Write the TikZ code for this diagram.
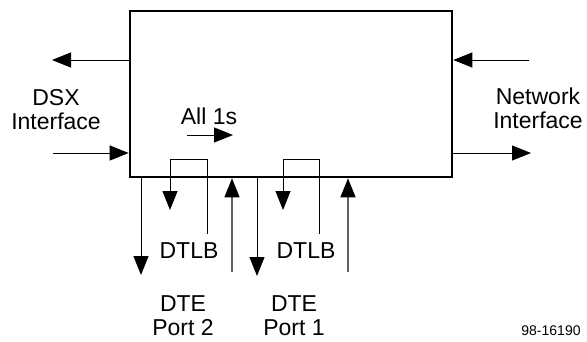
\documentclass[tikz,border=0pt]{standalone}
\usepackage{fontspec}
\setmainfont{Liberation Sans}
\usetikzlibrary{positioning, arrows.meta}

\begin{document}
\begin{tikzpicture}[x=1pt, y=-1pt,
  lbl/.style={font=\fontsize{23}{24}\selectfont, align=center, inner sep=0pt},
  tag/.style={font=\fontsize{14}{16}\selectfont, inner sep=0pt},
  unit/.style={draw, line width=2.6pt, minimum width=322pt, minimum height=166pt, inner sep=0pt},
  arr/.style={-{Triangle[length=19pt, width=15pt]}, line width=1pt},
  back/.style={-{Triangle[length=19pt, width=15pt, color=black]}, line width=1.2pt, draw=black!62}]

\useasboundingbox (0,0) rectangle (587,341);

\node[unit] (box) at (291,94) {};

% DSX side
\coordinate (dsxOut) at (52,60);
\coordinate (dsxIn)  at (53,153);
\draw[arr] (dsxOut -| box.west) -- (dsxOut);
\draw[arr] (dsxIn) -- (dsxIn -| box.west);
\node[lbl] (dsx) at (56,110) {DSX\\Interface};

% network side
\coordinate (netIn)  at (529,60);
\coordinate (netOut) at (531,153);
\draw[arr] (netIn) -- (netIn -| box.east);
\draw[arr] (netOut -| box.east) -- (netOut);
\node[lbl] (net) at (538,108) {Network\\Interface};

% all ones
\node[lbl] (ones) at (209,116) {All 1s};
\coordinate (onesA) at (187,135);
\coordinate (onesB) at (233,135);
\draw[arr] (onesA) -- (onesB);

% DTE port 2
\coordinate (p2tx) at (141,275);
\coordinate (p2rx) at (232,272);
\coordinate (lb2e) at (207,234);
\coordinate (lb2s) at (170,210);
\draw[arr] (p2tx |- box.south) -- (p2tx);
\draw[arr] (lb2e) -- ++(0,-75) -| (lb2s);
\draw[back] (p2rx) -- (p2rx |- box.south);
\node[lbl] (dtlb2) at (189,251) {DTLB};
\node[lbl] (port2) at (183,316) {DTE\\Port 2};

% DTE port 1
\coordinate (p1tx) at (257,276);
\coordinate (p1rx) at (348,272);
\coordinate (lb1e) at (319,234);
\coordinate (lb1s) at (283,210);
\draw[arr] (p1tx |- box.south) -- (p1tx);
\draw[arr] (lb1e) -- ++(0,-75) -| (lb1s);
\draw[back] (p1rx) -- (p1rx |- box.south);
\node[lbl] (dtlb1) at (306,251) {DTLB};
\node[lbl] (port1) at (294,316) {DTE\\Port 1};

\node[tag] (fig) at (551,331) {98-16190};

\end{tikzpicture}
\end{document}
